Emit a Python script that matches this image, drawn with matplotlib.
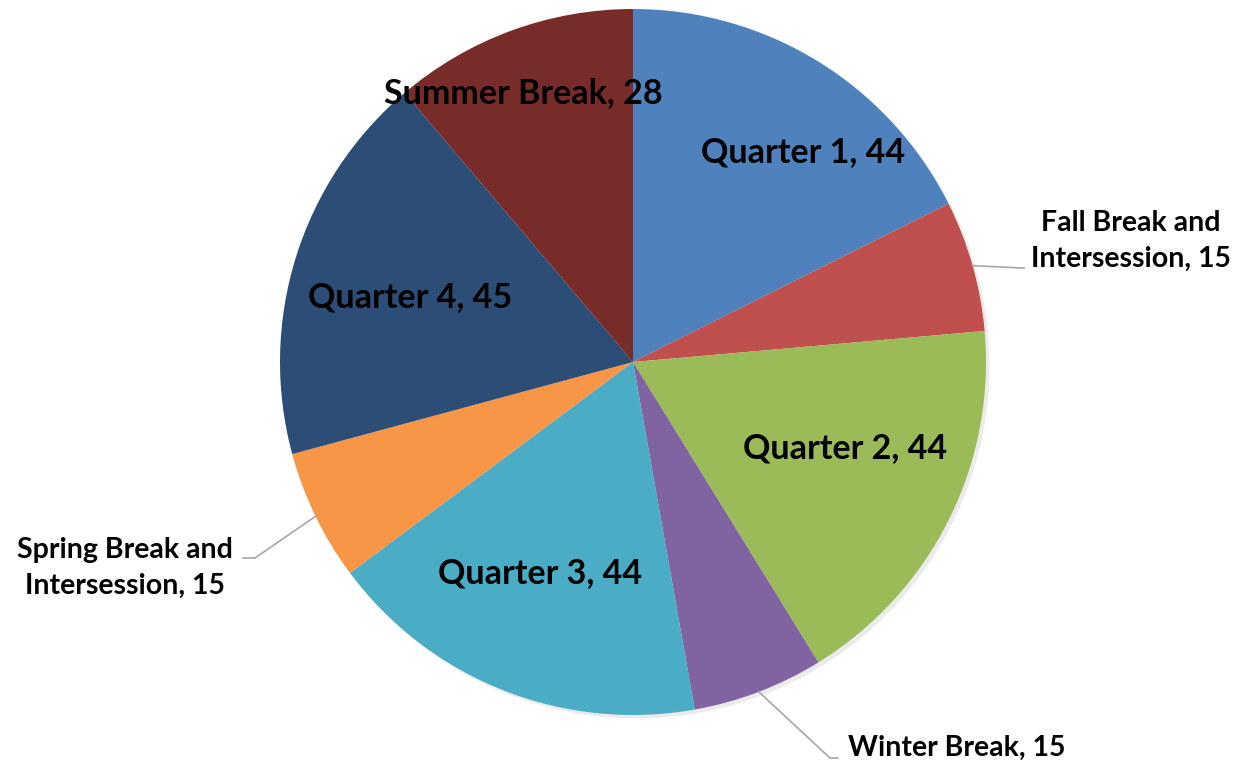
import numpy as np
import matplotlib.pyplot as plt

labels = ['Quarter 1', 'Fall Break and\nIntersession', 'Quarter 2', 'Winter Break',
          'Quarter 3', 'Spring Break and\nIntersession', 'Quarter 4', 'Summer Break']
days = [44, 15, 44, 15, 44, 15, 45, 28]
colors = ['#4F81BD', '#C0504D', '#9BBB59', '#8064A2',
          '#4BACC6', '#F79646', '#2C4D75', '#772C2A']

W, H = 1240, 764
cx, cy, R = 633, 362, 353


def px(x, y):
    # pixel position in the image -> data coords (pie radius = 1)
    return (x - cx) / R, (cy - y) / R


fig = plt.figure(figsize=(W / 100, H / 100), dpi=100)
ax = fig.add_axes([0, 0, 1, 1])

# faint shadow
ax.add_patch(plt.Circle((0.01, -0.01), 1.0, color='#000000', alpha=0.08, lw=0, zorder=0))
wedges, _ = ax.pie(days, colors=colors, startangle=90, counterclock=False, radius=1.0,
                   wedgeprops=dict(linewidth=0), frame=True)
ax.set_xlim(-cx / R, (W - cx) / R)
ax.set_ylim((cy - H) / R, cy / R)
ax.set_aspect('equal')
ax.axis('off')

font = dict(family=['Lato', 'DejaVu Sans'], fontweight='bold', color='black')

# inside labels: (index, pixel centre)
inside = {0: (803, 152), 2: (845, 448), 4: (540, 573), 6: (410, 297), 7: (523, 93)}
for i, (x, y) in inside.items():
    ax.text(*px(x, y), f'{labels[i]}, {days[i]}', ha='center', va='center', fontsize=24.5, **font)

# outside labels with leader lines: (index, text pos, elbow, end)
outside = [
    (1, (1131, 241), (1022, 268), (1024, 268)),
    (3, (957, 748), (830, 758), (838, 758)),
    (5, (125, 568), (255, 558), (243, 558)),
]
for i, tpos, elbow, end in outside:
    w = wedges[i]
    mid = np.deg2rad((w.theta1 + w.theta2) / 2)
    sx, sy = np.cos(mid), np.sin(mid)
    ex, ey = px(*elbow)
    fx, fy = px(*end)
    ax.plot([sx, ex, fx], [sy, ey, fy], color='#A6A6A6', lw=1.2, zorder=3)
    ax.text(*px(*tpos), f'{labels[i]}, {days[i]}', ha='center', va='center', fontsize=20.5,
            linespacing=1.45, **font)

fig.savefig('out.png', dpi=100)
